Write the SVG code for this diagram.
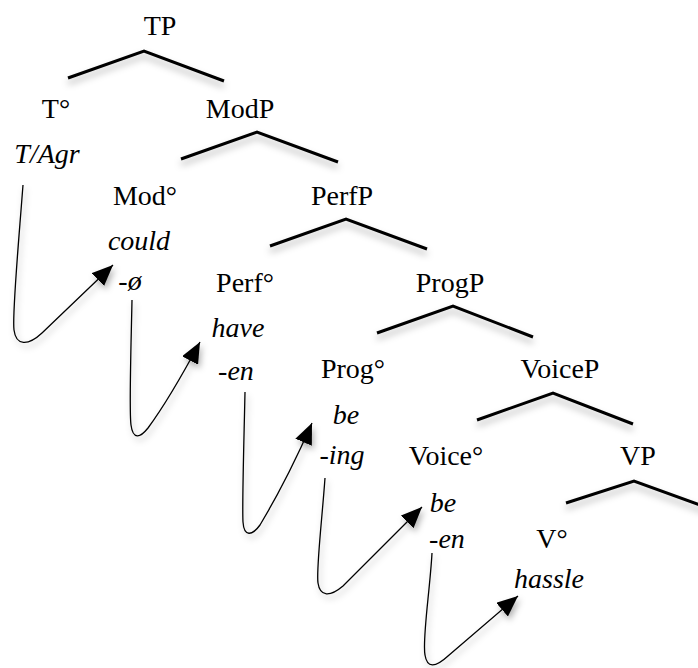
<svg xmlns="http://www.w3.org/2000/svg" width="698" height="668" viewBox="0 0 698 668">
<defs>
<style>
.t text{font-size:28px;fill:#000;text-anchor:middle}
.it{font-style:italic}
.tri{fill:none;stroke:#000;stroke-width:3;stroke-linejoin:miter;filter:url(#sh)}
.mv{fill:none;stroke:#000;stroke-width:1.3;marker-end:url(#ah);filter:url(#sh2)}
</style>
<filter id="sh" x="-20%" y="-50%" width="140%" height="250%">
<feDropShadow dx="0" dy="5" stdDeviation="3.5" flood-color="#000" flood-opacity="0.3"/>
</filter>
<filter id="sh2" x="-30%" y="-20%" width="160%" height="140%">
<feDropShadow dx="2" dy="4" stdDeviation="3" flood-color="#000" flood-opacity="0.3"/>
</filter>
<marker id="ah" markerUnits="userSpaceOnUse" markerWidth="22" markerHeight="18" refX="21" refY="9" orient="auto" viewBox="0 0 22 18">
<path d="M0,0 L21,9 L0,18 z" fill="#000"/>
</marker>
</defs>
<rect width="698" height="668" fill="#fff"/>
<g id="connectors">
<polyline class="tri" points="68,78 144,51 224,81"/>
<polyline class="tri" points="181,159 257,132 338,162"/>
<polyline class="tri" points="270,246 346,219 427,249"/>
<polyline class="tri" points="377,333 453,306 533,337"/>
<polyline class="tri" points="477,420 553,393 633,424"/>
<polyline class="tri" points="566,503 634,481 714,510"/>
<path class="mv" d="M23,185 C18,250 12,315 14,330 C16,346 28,346 42,333 L113,265"/>
<path class="mv" d="M132,300 C131,350 129,410 131,425 C133,440 140,438 148,428 C165,405 185,370 200,342"/>
<path class="mv" d="M245,392 C244,440 242,505 243,522 C244,537 252,536 260,525 C278,495 298,455 312,423"/>
<path class="mv" d="M325,478 C322,520 316,570 318,583 C320,597 330,597 343,586 L422,507"/>
<path class="mv" d="M432,553 C430,590 422,640 425,655 C427,668 435,668 448,656 L518,596"/>
</g>
<g class="t" font-family="Liberation Serif, DejaVu Serif, serif">
<g id="TP"><text x="160" y="35">TP</text></g>
<g id="T"><text x="56" y="118">T°</text><text class="it" x="47" y="163">T/Agr</text></g>
<g id="ModP"><text x="240" y="118">ModP</text></g>
<g id="Mod"><text x="145" y="205">Mod°</text><text class="it" x="139" y="250">could</text><text class="it" x="130" y="290">-ø</text></g>
<g id="PerfP"><text x="342" y="205">PerfP</text></g>
<g id="Perf"><text x="245" y="292">Perf°</text><text class="it" x="238" y="337">have</text><text class="it" x="236" y="380">-en</text></g>
<g id="ProgP"><text x="450" y="292">ProgP</text></g>
<g id="Prog"><text x="353" y="378">Prog°</text><text class="it" x="346" y="424">be</text><text class="it" x="342" y="464">-ing</text></g>
<g id="VoiceP"><text x="560" y="378">VoiceP</text></g>
<g id="Voice"><text x="446" y="465">Voice°</text><text class="it" x="443" y="512">be</text><text class="it" x="447" y="548">-en</text></g>
<g id="VP"><text x="638" y="465">VP</text></g>
<g id="V"><text x="552" y="548">V°</text><text class="it" x="549" y="588">hassle</text></g>
</g>
</svg>
